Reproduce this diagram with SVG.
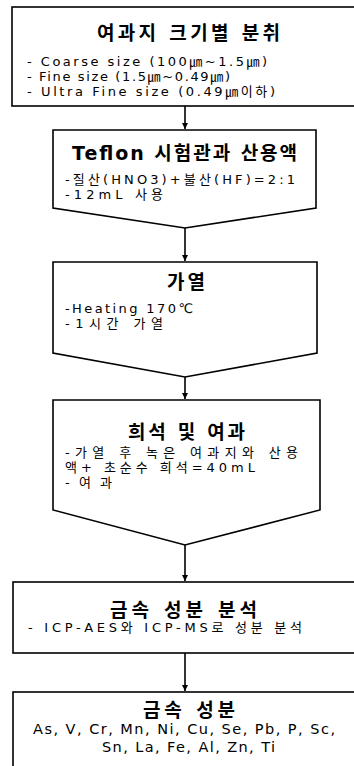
<svg xmlns="http://www.w3.org/2000/svg" width="354" height="766" viewBox="0 0 354 766">
<style>
.box{fill:#fff;stroke:#000;stroke-width:1.6}
.t{font-family:"DejaVu Sans","Noto Sans CJK KR",sans-serif;font-weight:bold;font-size:19px;fill:#000;dominant-baseline:central}
.b{font-family:"DejaVu Sans","Noto Sans CJK KR",sans-serif;font-size:13px;fill:#000;dominant-baseline:central}
.c{font-family:"DejaVu Sans","Noto Sans CJK KR",sans-serif;font-size:14.5px;fill:#000;dominant-baseline:central}
.con{stroke:#000;stroke-width:1.6;fill:none}
</style>
<defs>
<marker id="ah" markerWidth="8" markerHeight="8" refX="6" refY="4" orient="auto" markerUnits="userSpaceOnUse">
<path d="M0,1 L6,4 L0,7 Z" fill="#000"/>
</marker>
</defs>
<rect width="354" height="766" fill="#fff"/>
<g id="n1">
<rect class="box" x="12" y="7" width="360" height="99"/>
<text class="t" x="97" y="33" textLength="183">여과지 크기별 분취</text>
<text class="b" x="27" y="61" textLength="240">- Coarse size (100㎛~1.5㎛)</text>
<text class="b" x="27" y="76" textLength="203">- Fine size (1.5㎛~0.49㎛)</text>
<text class="b" x="27" y="91" textLength="248">- Ultra Fine size (0.49㎛이하)</text>
</g>
<g id="n2">
<path class="box" d="M53,130 H316 V208 L185,228 L53,208 Z"/>
<text class="t" x="72" y="153" textLength="225">Teflon 시험관과 산용액</text>
<text class="b" x="65" y="179" textLength="230">-질산(HNO3)+불산(HF)=2:1</text>
<text class="b" x="65" y="194" textLength="98">-12mL 사용</text>
</g>
<g id="n3">
<path class="box" d="M53,262 H317 V353 L185,377 L53,353 Z"/>
<text class="t" x="167" y="282" textLength="38">가열</text>
<text class="b" x="65" y="308" textLength="128">-Heating 170℃</text>
<text class="b" x="65" y="323" textLength="98">-1시간 가열</text>
</g>
<g id="n4">
<path class="box" d="M53,400 H320 V510 L185,545 L53,510 Z"/>
<text class="t" x="128" y="432" textLength="117">희석 및 여과</text>
<text class="b" x="65" y="452" textLength="233">-가열 후 녹은 여과지와 산용</text>
<text class="b" x="65" y="467" textLength="190">액+ 초순수 희석=40mL</text>
<text class="b" x="65" y="482" textLength="47">-여과</text>
</g>
<g id="n5">
<rect class="box" x="13" y="582" width="360" height="71"/>
<text class="t" x="110" y="610" textLength="147">금속 성분 분석</text>
<text class="b" x="28" y="627" textLength="274">- ICP-AES와 ICP-MS로 성분 분석</text>
</g>
<g id="n6">
<rect class="box" x="13" y="692" width="360" height="90"/>
<text class="t" x="143" y="710" textLength="92">금속 성분</text>
<text class="c" x="33" y="729" textLength="302">As, V, Cr, Mn, Ni, Cu, Se, Pb, P, Sc,</text>
<text class="c" x="102" y="747" textLength="173">Sn, La, Fe, Al, Zn, Ti</text>
</g>
<g id="connectors">
<line class="con" x1="185" y1="106" x2="185" y2="129" marker-end="url(#ah)"/>
<line class="con" x1="185" y1="228" x2="185" y2="261" marker-end="url(#ah)"/>
<line class="con" x1="185" y1="377" x2="185" y2="399" marker-end="url(#ah)"/>
<line class="con" x1="185" y1="545" x2="185" y2="581" marker-end="url(#ah)"/>
<line class="con" x1="185" y1="653" x2="185" y2="691" marker-end="url(#ah)"/>
</g>
</svg>
